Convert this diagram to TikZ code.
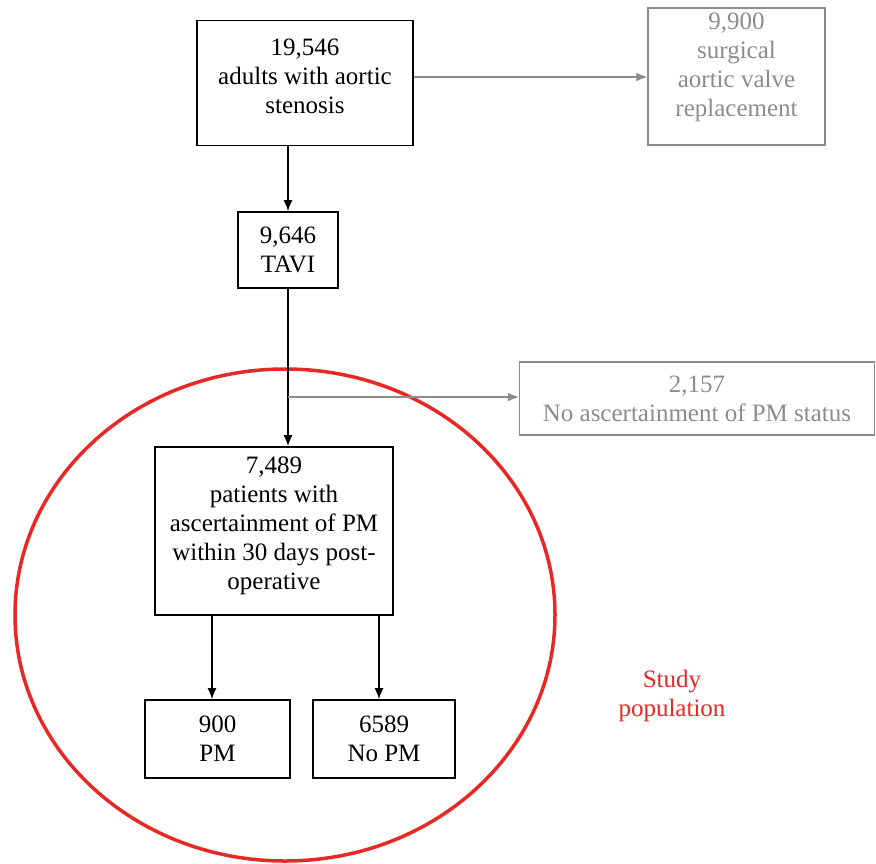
\documentclass[tikz,border=0pt]{standalone}
\usepackage{fontspec}
\setmainfont{Liberation Serif}
\usetikzlibrary{arrows.meta}
\definecolor{boxgrey}{RGB}{140,140,140}
\definecolor{studyred}{RGB}{232,40,36}
\begin{document}
\begin{tikzpicture}[x=1pt,y=-1pt,
  every node/.style={font=\rmfamily\fontsize{25}{29}\selectfont, align=center, inner sep=0pt},
  mainbox/.style={draw=black, line width=1.8pt},
  greybox/.style={draw=boxgrey, line width=1.5pt, text=boxgrey},
  arr/.style={line width=1.3pt, -{Latex[length=11pt,width=9pt]}},
  garr/.style={line width=1.3pt, draw=boxgrey, -{Latex[length=11pt,width=9pt]}, boxgrey}
]
\useasboundingbox (0,0) rectangle (876,863);
\draw[studyred, line width=3.5pt] (285,615) ellipse [x radius=270, y radius=246];

\node[mainbox, minimum width=216pt, minimum height=125pt] (b1) at (305,83) {};
\node (b1t) at ([yshift=7pt]b1.center) {19,546\\adults with aortic\\stenosis};
\node[greybox, minimum width=177pt, minimum height=137pt] (g1) at (736.5,76.5) {};
\node[text=boxgrey] (g1t) at ([yshift=9pt]g1.center) {9,900\\surgical\\aortic valve\\replacement};
\node[mainbox, minimum width=100pt, minimum height=76pt] (tavi) at (288,250) {9,646\\TAVI};
\node[greybox, minimum width=355pt, minimum height=73pt] (g2) at (697,398.5) {2,157\\No ascertainment of PM status};
\node[mainbox, minimum width=238pt, minimum height=168pt] (b3) at (274,531) {};
\node (b3t) at ([yshift=5pt]b3.center) {7,489\\patients with\\ascertainment of PM\\within 30 days post-\\operative};
\node[mainbox, minimum width=145pt, minimum height=78pt] (pm) at (217.5,739) {900\\PM};
\node[mainbox, minimum width=142pt, minimum height=78pt] (nopm) at (384,739) {6589\\No PM};
\node[text=studyred] (study) at (672,696) {Study\\population};

\coordinate (c1) at (288,0);
\coordinate (row1) at (0,77);
\coordinate (br) at (288,397);
\coordinate (a1) at (212,0);
\coordinate (a2) at (379,0);

\draw[garr] (b1.east |- row1) -- (g1.west |- row1);
\draw[arr] (c1 |- b1.south) -- (c1 |- tavi.north);
\draw[line width=1.3pt] (c1 |- tavi.south) -- (br);
\draw[arr] (br) -- (c1 |- b3.north);
\draw[garr] (br) -- (br -| g2.west);
\draw[arr] (a1 |- b3.south) -- (a1 |- pm.north);
\draw[arr] (a2 |- b3.south) -- (a2 |- nopm.north);
\end{tikzpicture}
\end{document}
